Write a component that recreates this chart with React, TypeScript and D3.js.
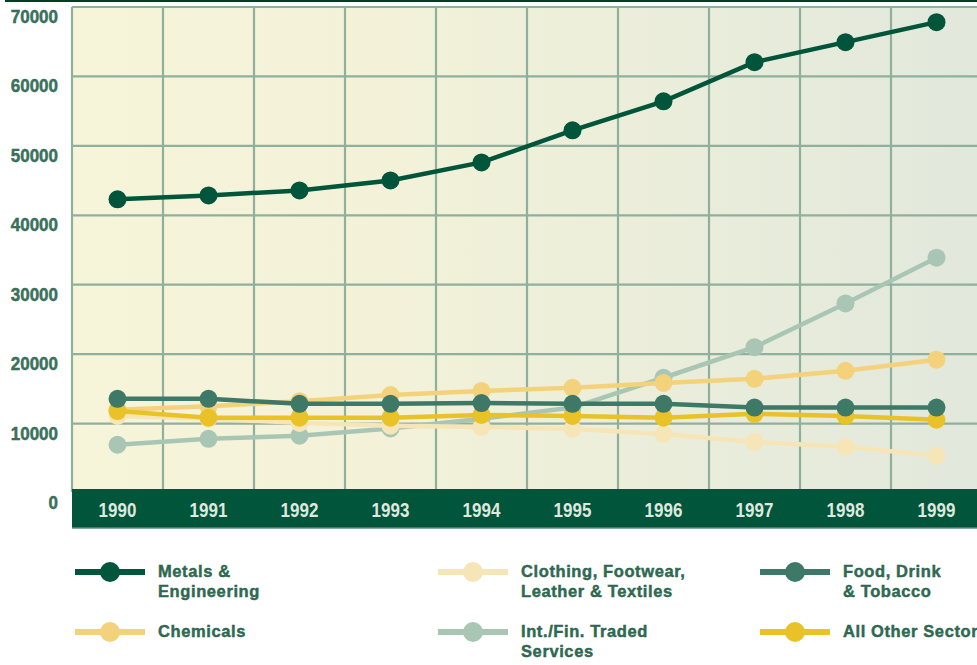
import React from 'react';
import * as d3 from 'd3';

const WIDTH = 977;
const HEIGHT = 665;

const years = ['1990', '1991', '1992', '1993', '1994', '1995', '1996', '1997', '1998', '1999'];
const yTicks = [0, 10000, 20000, 30000, 40000, 50000, 60000, 70000];

const metals = [42300, 42860, 43580, 45020, 47620, 52240, 56420, 62050, 64940, 67820];
const clothing = [11100, 10700, 10100, 9700, 9500, 9250, 8500, 7350, 6650, 5350];
const food = [13560, 13560, 12850, 12850, 12950, 12850, 12850, 12300, 12300, 12300];
const chemicals = [12000, 12500, 13200, 14100, 14700, 15150, 15850, 16450, 17600, 19200];
const intFin = [6950, 7800, 8250, 9300, 10700, 12300, 16600, 21000, 27300, 33900];
const allOther = [11800, 10850, 10850, 10850, 11250, 11100, 10850, 11400, 11100, 10550];

interface Series {
  name: string[];
  values: number[];
  color: string;
}

// drawing order (last on top)
const series: Series[] = [
  { name: ['Int./Fin. Traded', 'Services'], values: intFin, color: '#a9c6b5' },
  { name: ['Clothing, Footwear,', 'Leather & Textiles'], values: clothing, color: '#f6e5b7' },
  { name: ['Chemicals'], values: chemicals, color: '#f4d27c' },
  { name: ['All Other Sectors'], values: allOther, color: '#e9c228' },
  { name: ['Food, Drink', '& Tobacco'], values: food, color: '#3e7867' },
  { name: ['Metals &', 'Engineering'], values: metals, color: '#00553a' },
];

// legend layout: [series index, column, row]
const legendSlots: [number, number, number][] = [
  [5, 0, 0],
  [1, 1, 0],
  [4, 2, 0],
  [2, 0, 1],
  [0, 1, 1],
  [3, 2, 1],
];

const margin = { l: 72, t: 7, b: 173 };
const PLOT_RIGHT = 982;
const BAND_H = 39;

const App = () => {
  const zeroY = HEIGHT - margin.b;
  const x = d3.scaleBand<string>().domain(years).range([margin.l, PLOT_RIGHT]).paddingInner(0).paddingOuter(0);
  const y = d3.scaleLinear().domain([0, 70000]).range([zeroY + 1, margin.t]);

  const line = d3
    .line<number>()
    .x((d, i) => (x(years[i]) as number) + x.bandwidth() / 2)
    .y((d) => y(d));

  const legendX = [75, 438, 760];
  const legendY = [572, 632];

  return (
    <svg
      width={WIDTH}
      height={HEIGHT}
      style={{ position: 'absolute', left: 0, top: 0, display: 'block' }}
      fontFamily="'Liberation Sans', Arial, sans-serif"
    >
      <defs>
        <linearGradient id="bg" x1="0" x2="1" y1="0" y2="0">
          <stop offset="0%" stopColor="#f6f5da" />
          <stop offset="35%" stopColor="#f3f2d9" />
          <stop offset="100%" stopColor="#e1e8dc" />
        </linearGradient>
      </defs>
      <rect x={0} y={0} width={WIDTH} height={HEIGHT} fill="#fff" />
      <line x1={5} x2={WIDTH} y1={1} y2={1} stroke="#003f22" strokeWidth={2} />

      <rect x={margin.l} y={margin.t} width={PLOT_RIGHT - margin.l} height={zeroY - margin.t} fill="url(#bg)" />

      {/* grid */}
      <g stroke="#8fb09d" strokeWidth={2.2}>
        {yTicks.slice(1).map((t) => (
          <line key={t} x1={margin.l} x2={PLOT_RIGHT} y1={y(t)} y2={y(t)} />
        ))}
        {years.map((yr) => (
          <line key={yr} x1={x(yr) as number} x2={x(yr) as number} y1={margin.t} y2={zeroY} />
        ))}
      </g>

      {/* year band */}
      <rect x={margin.l} y={zeroY - 3} width={PLOT_RIGHT - margin.l} height={BAND_H} fill="#00553a" />
      <line x1={margin.l} x2={PLOT_RIGHT} y1={zeroY + BAND_H - 3} y2={zeroY + BAND_H - 3} stroke="#5f8d7c" strokeWidth={1.5} />
      {years.map((yr) => (
        <text
          key={yr}
          transform={`translate(${(x(yr) as number) + x.bandwidth() / 2},${zeroY + 25}) scale(1,1.2)`}
          textAnchor="middle"
          fontSize={17}
          fontWeight="bold"
          fill="#dfe7df"
        >
          {yr}
        </text>
      ))}

      {/* y labels */}
      {yTicks.map((t) => (
        <text
          key={t}
          transform={`translate(58,${y(t) + 16}) scale(1,1.1)`}
          textAnchor="end"
          fontSize={17}
          fontWeight="bold"
          fill="#3a7560"
          stroke="#2a5e48"
          strokeWidth={0.4}
        >
          {t}
        </text>
      ))}

      {/* series */}
      {series.map((s) => (
        <g key={s.name.join(' ')}>
          <path d={line(s.values) || ''} fill="none" stroke={s.color} strokeWidth={4.5} />
          {s.values.map((v, i) => (
            <circle
              key={i}
              cx={(x(years[i]) as number) + x.bandwidth() / 2}
              cy={y(v)}
              r={9}
              fill={s.color}
            />
          ))}
        </g>
      ))}

      {/* legend */}
      {legendSlots.map(([si, col, row]) => {
        const s = series[si];
        const lx = legendX[col];
        const ly = legendY[row];
        return (
          <g key={si} transform={`translate(${lx},${ly})`}>
            <line x1={0} x2={70} y1={0} y2={0} stroke={s.color} strokeWidth={6} />
            <circle cx={35} cy={0} r={10} fill={s.color} />
            {s.name.map((n, k) => (
              <text
                key={k}
                x={83}
                y={5 + k * 20}
                fontSize={16.5}
                letterSpacing={0.6}
                fontWeight="bold"
                fill="#2f6c53"
                stroke="#245a44"
                strokeWidth={0.4}
              >
                {n}
              </text>
            ))}
          </g>
        );
      })}
    </svg>
  );
};

export default App;
